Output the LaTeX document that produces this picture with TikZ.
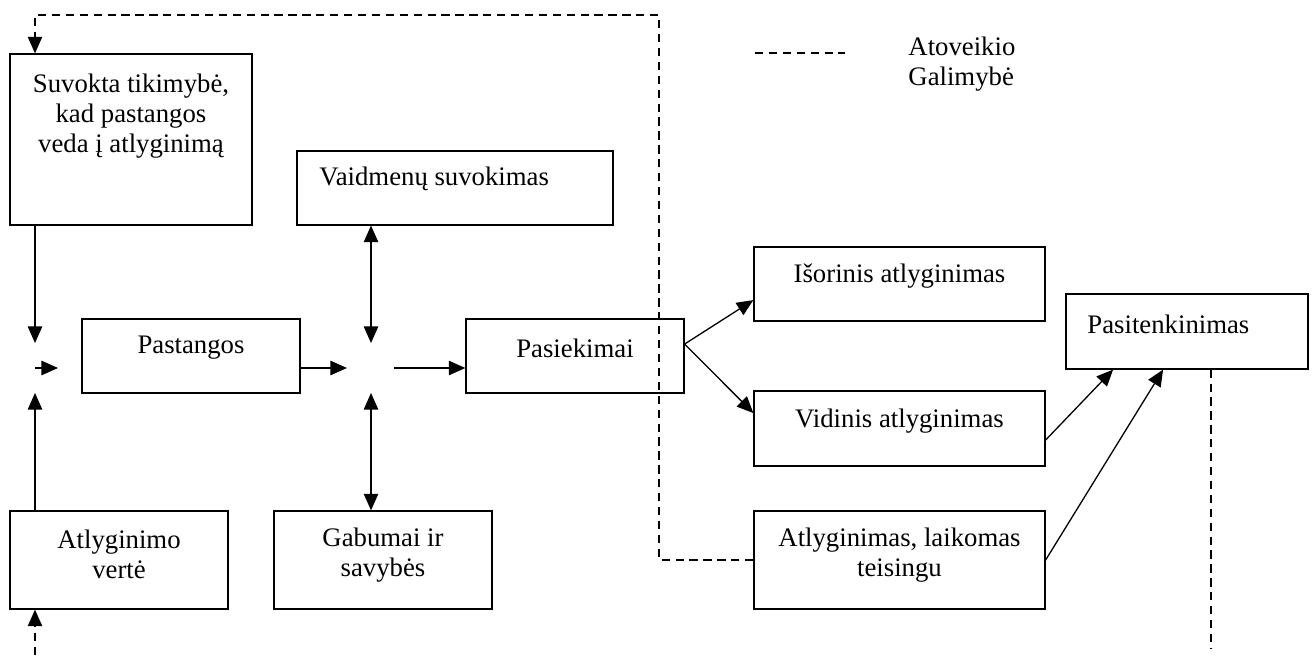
\documentclass[tikz,border=0pt]{standalone}
\usepackage{fontspec}
\setmainfont{Liberation Serif}
\usetikzlibrary{arrows.meta}

\begin{document}
\begin{tikzpicture}[x=0.46pt,y=-0.46pt,
  box/.style={draw,line width=0.55pt,inner sep=0pt},
  txt/.style={font=\fontsize{12.3}{13.8}\selectfont,align=center,inner sep=0pt},
  arr/.style={line width=0.6pt,-{Triangle[length=7.6pt,width=6.6pt]}},
  twoway/.style={line width=0.6pt,{Triangle[length=7.6pt,width=6.6pt]}-{Triangle[length=7.6pt,width=6.6pt]}},
  fb/.style={line width=0.6pt,dash pattern=on 3.8pt off 2.6pt}]
\useasboundingbox (0,0) rectangle (1314,655);
% boxes
\node[box,minimum width=111.3pt,minimum height=78.7pt] (suvokta) at (131,139.5) {};
\node[box,minimum width=145.4pt,minimum height=34pt] (vaidmenu) at (455,188) {};
\node[box,minimum width=100.3pt,minimum height=34pt] (pastangos) at (191,356) {};
\node[box,minimum width=100.3pt,minimum height=34pt] (pasiekimai) at (575,356) {};
\node[box,minimum width=100.3pt,minimum height=45.1pt] (verte) at (119,560) {};
\node[box,minimum width=100.3pt,minimum height=45.1pt] (gabumai) at (383,560) {};
\node[box,minimum width=133.9pt,minimum height=34pt] (isorinis) at (899.5,284) {};
\node[box,minimum width=133.9pt,minimum height=34.5pt] (vidinis) at (899.5,428.5) {};
\node[box,minimum width=133.9pt,minimum height=45.1pt] (teisingu) at (899.5,560) {};
\node[box,minimum width=111.3pt,minimum height=34.5pt] (pasitenk) at (1187,331.5) {};
% texts
\node[txt] (suvoktaT) at (131,116) {Suvokta tikimybė,\\kad pastangos\\veda į atlyginimą};
\node[txt,anchor=west] (vaidmenuT) at (319,179) {Vaidmenų suvokimas};
\node[txt] (pastangosT) at (191,348) {Pastangos};
\node[txt] (pasiekimaiT) at (575,348) {Pasiekimai};
\node[txt] (verteT) at (119,554) {Atlyginimo\\vertė};
\node[txt] (gabumaiT) at (383,555) {Gabumai ir\\savybės};
\node[txt] (isorinisT) at (899.5,276) {Išorinis atlyginimas};
\node[txt] (vidinisT) at (899.5,421) {Vidinis atlyginimas};
\node[txt] (teisinguT) at (899.5,555) {Atlyginimas, laikomas\\teisingu};
\node[txt,anchor=west] (pasitenkT) at (1087,324) {Pasitenkinimas};
\node[txt,align=left,anchor=west] (legendT) at (908,64) {Atoveikio\\Galimybė};
% junction points
\coordinate (j1) at (35,368);
\coordinate (j1n) at (35,343);
\coordinate (j1s) at (35,393);
\coordinate (j1e) at (58,368);
\coordinate (j2w) at (347,368);
\coordinate (j2e) at (394,368);
\coordinate (j2n) at (371,343);
\coordinate (j2s) at (371,393);
% feedback corners
\coordinate (fbA) at (659,15);
\coordinate (fbB) at (35,15);
\coordinate (fbC) at (1211,648);
\coordinate (fbD) at (35,655);
\coordinate (legA) at (755,53);
\coordinate (legB) at (845,53);
% connectors
\draw[arr] (j1n |- suvokta.south) -- (j1n);
\draw[arr] (j1s |- verte.north) -- (j1s);
\draw[arr] (j1) -- (j1e);
\draw[arr] (pastangos.east |- j2w) -- (j2w);
\draw[arr] (j2e) -- (pasiekimai.west |- j2e);
\draw[twoway] (j2n |- vaidmenu.south) -- (j2n);
\draw[twoway] (j2s) -- (j2s |- gabumai.north);
\draw[arr] ([yshift=5.5pt]pasiekimai.east) -- ([yshift=-7.4pt]isorinis.west);
\draw[arr] ([yshift=5.5pt]pasiekimai.east) -- ([yshift=7.1pt]vidinis.west);
\draw[arr] ([yshift=-5.3pt]vidinis.east) -- ([xshift=-34pt]pasitenk.south);
\draw[arr] (teisingu.east) -- ([xshift=-11pt]pasitenk.south);
% feedback
\draw[fb,arr] (teisingu.west) -| (fbA) -- (fbB) -- (fbB |- suvokta.north);
\draw[fb] (fbC |- pasitenk.south) -- (fbC);
\draw[fb,arr] (fbD) -- (fbD |- verte.south);
\draw[fb] (legA) -- (legB);
\end{tikzpicture}
\end{document}
